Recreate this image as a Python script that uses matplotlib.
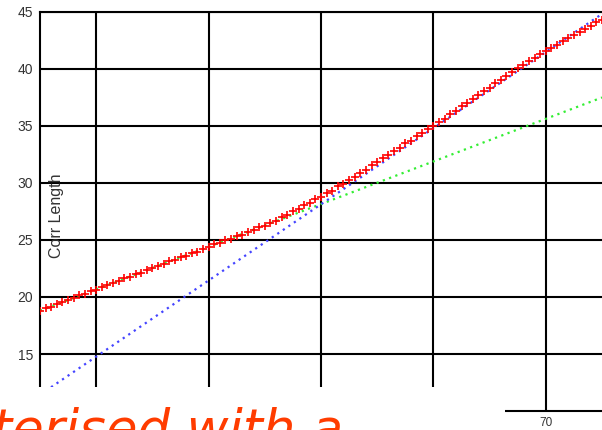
import numpy as np
import matplotlib
matplotlib.use("Agg")
import matplotlib.pyplot as plt
from matplotlib.patches import Rectangle

# correlation length samples
corr_len = [
    18.78, 19.02, 19.15, 19.40, 19.52, 19.78, 19.90, 20.15, 20.27, 20.52,
    20.64, 20.90, 21.01, 21.27, 21.38, 21.64, 21.76, 22.01, 22.13, 22.38,
    22.50, 22.76, 22.87, 23.13, 23.24, 23.50, 23.62, 23.87, 23.99, 24.24,
    24.36, 24.62, 24.73, 24.99, 25.10, 25.36, 25.48, 25.73, 25.87, 26.12,
    26.26, 26.52, 26.70, 27.00, 27.18, 27.50, 27.72, 28.05, 28.25, 28.58,
    28.78, 29.12, 29.33, 29.70, 29.93, 30.30, 30.52, 30.92, 31.18, 31.58,
    31.82, 32.22, 32.48, 32.82, 33.10, 33.48, 33.72, 34.08, 34.35, 34.72,
    34.98, 35.36, 35.65, 36.05, 36.32, 36.72, 37.00, 37.40, 37.68, 38.05,
    38.35, 38.74, 39.02, 39.40, 39.70, 40.08, 40.36, 40.70, 40.95, 41.30,
    41.55, 41.88, 42.12, 42.45, 42.72, 43.02, 43.22, 43.52, 43.78, 44.10,
    44.28,
]
x_vals = np.linspace(25, 75, len(corr_len))

# fitted lines (end points)
fit_low_x = [25, 75]
fit_low_y = [18.8, 37.5]
fit_high_x = [25, 75]
fit_high_y = [11.43, 44.83]

y_ticks = [15, 20, 25, 30, 35, 40, 45]
x_ticks = [30, 40, 50, 60, 70]
x_labels = ["", "", "", "", "70"]

fig = plt.figure(figsize=(6.02, 4.30), dpi=100)
ax = fig.add_axes([40 / 602, 19 / 430, 562 / 602, 399 / 430])

ax.plot(fit_low_x, fit_low_y, color="#33ee33", lw=1.6, ls=(0, (1, 2)), zorder=3)
ax.plot(fit_high_x, fit_high_y, color="#4444ff", lw=1.6, ls=(0, (1, 2)), zorder=3)
ax.plot(x_vals, corr_len, ls="none", marker="+", color="red", ms=6, mew=1.2, zorder=4)

ax.set_xlim(25, 75)
ax.set_ylim(10, 45)
ax.set_xticks(x_ticks)
ax.set_xticklabels(x_labels)
ax.set_yticks(y_ticks)
ax.grid(True, color="black", lw=1.5)
ax.set_axisbelow(True)
ax.tick_params(length=0, pad=5, colors="#333333")
ax.tick_params(axis="y", labelsize=10)
ax.tick_params(axis="x", labelsize=8.5, pad=4)
for lbl in ax.get_xticklabels() + ax.get_yticklabels():
    lbl.set_fontfamily("Liberation Sans")
for side in ["left", "top", "bottom"]:
    ax.spines[side].set_linewidth(1.5)
ax.spines["right"].set_visible(False)

ax.text(0.03, 0.49, "Corr Length", transform=ax.transAxes, rotation=90,
        ha="center", va="center", fontsize=11.5, color="#333333",
        family="Liberation Sans")

# white strip over the lower left with the caption text
fig.patches.append(Rectangle((0, 0), 505 / 602, 43 / 430, transform=fig.transFigure,
                             facecolor="white", edgecolor="none", zorder=5))
fig.text(-8 / 602, -15 / 430, "terised with a", color="#ff3c00", fontsize=37,
         fontstyle="italic", family="DejaVu Sans", ha="left", va="baseline", zorder=6)

fig.savefig("out.png", dpi=100)
